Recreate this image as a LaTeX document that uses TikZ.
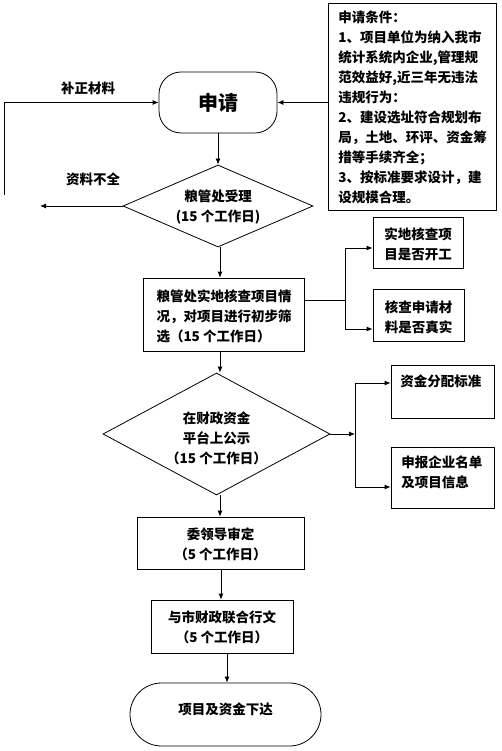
\documentclass[tikz,border=0pt]{standalone}
\usepackage{fontspec}
\setmainfont{Noto Sans CJK SC}
\usetikzlibrary{arrows.meta,shapes.geometric,calc}
\begin{document}
\begin{tikzpicture}[x=1pt,y=-1pt,
  line width=0.8pt,
  every node/.style={font=\bfseries\fontsize{13.5}{20}\selectfont},
  arr/.style={-{Latex[length=6pt,width=5pt]}},
  box/.style={draw,rectangle,inner sep=0pt},
  dia/.style={draw,diamond,inner sep=0pt},
  txt/.style={inner sep=0pt,align=center}]
\useasboundingbox (0,0) rectangle (501,751);
% shapes
\node[box,minimum width=168pt,minimum height=207pt] (cond) at (412,106.5) {};
\node[txt,align=left,anchor=north west] (condt) at (338,11)
 {申请条件：\\1、项目单位为纳入我市\\统计系统内企业,管理规\\范效益好,近三年无违法\\违规行为：\\2、建设选址符合规划布\\局，土地、环评、资金筹\\措等手续齐全；\\3、按标准要求设计，建\\设规模合理。};
\node[box,rounded corners=22pt,minimum width=118pt,minimum height=61pt,font=\bfseries\fontsize{20}{24}\selectfont] (sq) at (218,102.5) {申请};
\node[dia,minimum width=190pt,minimum height=82pt] (d1) at (218,206) {};
\node[txt] (d1t) at (218,207.5) {粮管处受理\\(15 个工作日)};
\node[box,minimum width=161pt,minimum height=73pt] (chk) at (223.5,314.5) {};
\node[txt,align=left] (chkt) at (224,316) {粮管处实地核查项目情\\况，对项目进行初步筛\\选（15 个工作日）};
\node[box,minimum width=90pt,minimum height=51pt] (s1) at (418,242.5) {};
\node[txt] (s1t) at (418,244) {实地核查项\\目是否开工};
\node[box,minimum width=91pt,minimum height=52pt] (s2) at (418.5,315) {};
\node[txt] (s2t) at (418.5,317) {核查申请材\\料是否真实};
\node[dia,minimum width=227pt,minimum height=122pt] (d2) at (216.5,434) {};
\node[txt] (d2t) at (216.5,438.5) {在财政资金\\平台上公示\\（15 个工作日）};
\node[box,minimum width=103pt,minimum height=53pt] (s3) at (442.5,391.5) {};
\node[txt,anchor=north west] (s3t) at (400,374) {资金分配标准};
\node[box,minimum width=103pt,minimum height=61pt] (s4) at (442.5,477.5) {};
\node[txt,align=left,anchor=north west] (s4t) at (401,455) {申报企业名单\\及项目信息};
\node[box,minimum width=167pt,minimum height=52pt] (wei) at (220.5,543) {};
\node[txt] (weit) at (220.5,544.5) {委领导审定\\（5 个工作日）};
\node[box,minimum width=142pt,minimum height=53pt] (yu) at (222,626.5) {};
\node[txt] (yut) at (222,627) {与市财政联合行文\\（5 个工作日）};
\node[box,rounded corners=31.5pt,minimum width=191pt,minimum height=63pt] (end) at (225.5,714.5) {};
\node[txt] (endt) at (225.5,709) {项目及资金下达};
% labels
\node[txt] (lb1) at (88,88) {补正材料};
\node[txt] (lb2) at (93,179) {资料不全};
% coordinates
\coordinate (L) at (4,195);
\coordinate (A) at (40,206);
\coordinate (B) at (345,300);
\coordinate (C) at (355,434);
% connectors
\draw[arr] (cond.west |- sq.east) -- (sq.east);
\draw[arr] (L) |- (sq.west);
\draw[arr] (d1.west) -- (A);
\draw[arr] (sq.south) -- (d1.north);
\draw[arr] (220,0 |- d1.south) -- (220,0 |- chk.north);
\draw (chk.east |- B) -- (B);
\draw[arr] (B) |- ([yshift=-5.5pt]s1.west);
\draw[arr] (B) |- ([yshift=-14pt]s2.west);
\draw[arr] (220,0 |- chk.south) -- (220,0 |- d2.north);
\draw[arr] (d2.east) -- (C);
\draw[arr] (C) |- ([yshift=8.5pt]s3.west);
\draw[arr] (C) |- ([yshift=-9.5pt]s4.west);
\draw[arr] (220,0 |- d2.south) -- (220,0 |- wei.north);
\draw[arr] (221,0 |- wei.south) -- (221,0 |- yu.north);
\draw[arr] (227,0 |- yu.south) -- (227,0 |- end.north);
\end{tikzpicture}
\end{document}
